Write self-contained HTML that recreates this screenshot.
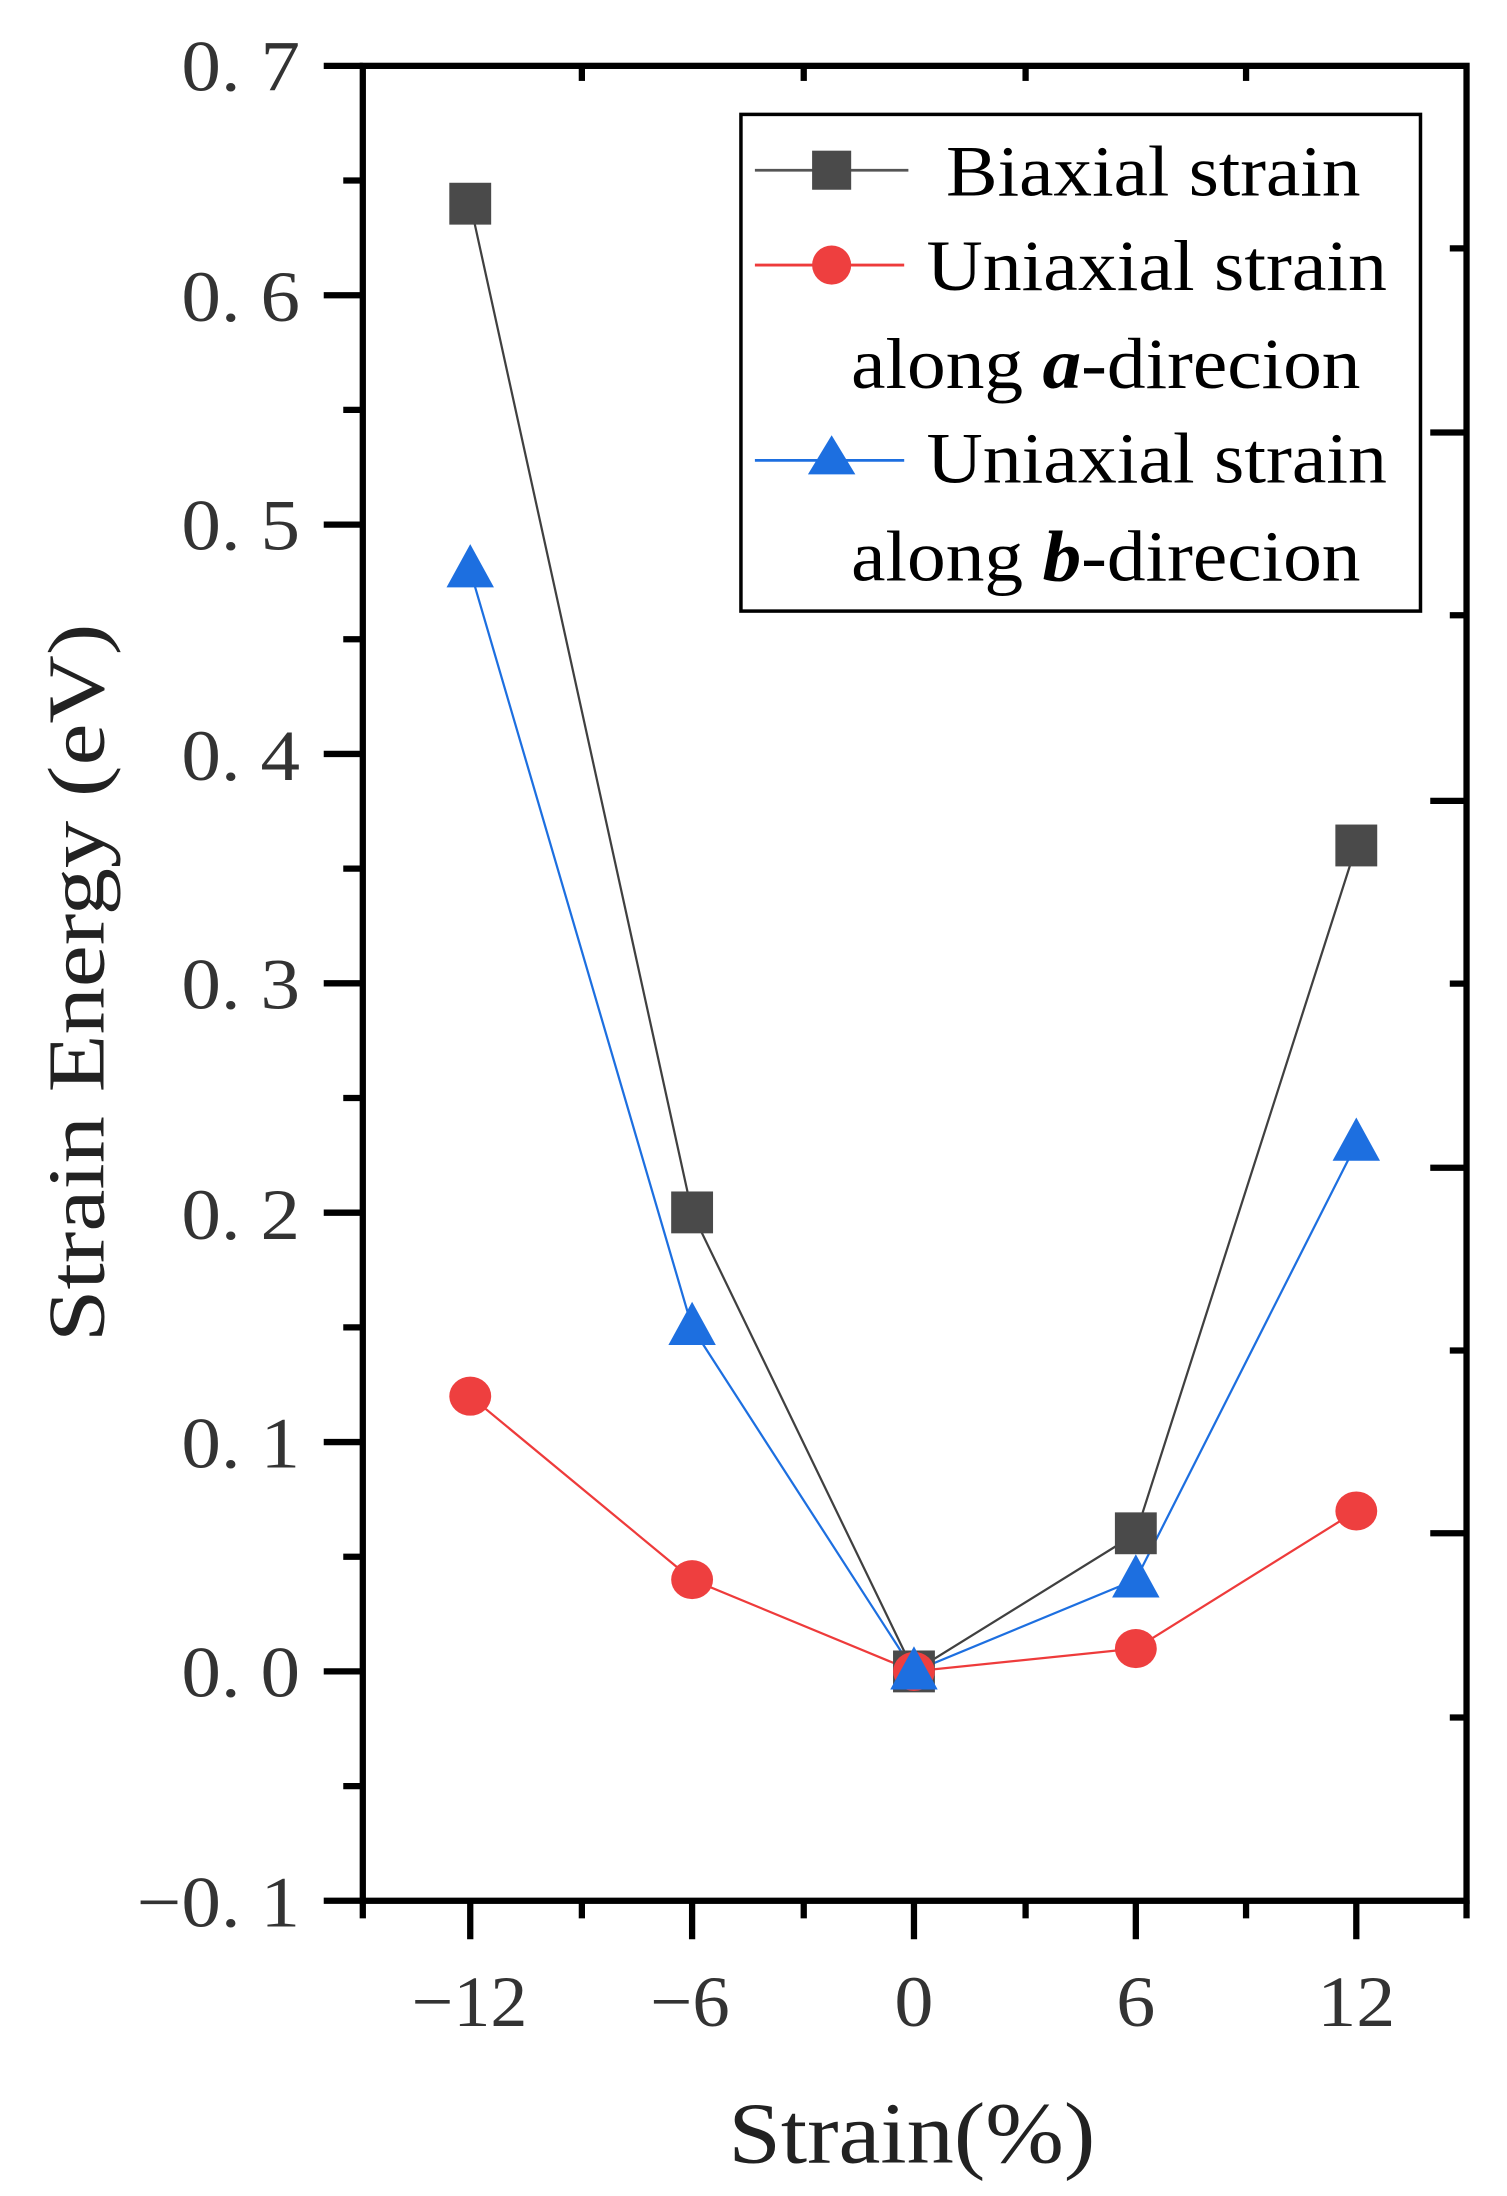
<!DOCTYPE html>
<html><head><style>
html,body{margin:0;padding:0;background:#fff;}
svg{display:block;}
text{font-family:"Liberation Serif",serif;}
</style></head><body>
<svg width="1507" height="2196" viewBox="0 0 1080 1574" preserveAspectRatio="none" xmlns="http://www.w3.org/2000/svg">
<rect width="1080" height="1574" fill="#fff"/>
<rect x="260" y="47.2" width="791" height="1315.2" fill="none" stroke="#000" stroke-width="4.5"/>
<g stroke="#000" stroke-width="4.5">
<line x1="232" y1="47.2" x2="260" y2="47.2"/>
<line x1="232" y1="211.6" x2="260" y2="211.6"/>
<line x1="232" y1="376" x2="260" y2="376"/>
<line x1="232" y1="540.4" x2="260" y2="540.4"/>
<line x1="232" y1="704.8" x2="260" y2="704.8"/>
<line x1="232" y1="869.2" x2="260" y2="869.2"/>
<line x1="232" y1="1033.6" x2="260" y2="1033.6"/>
<line x1="232" y1="1198" x2="260" y2="1198"/>
<line x1="232" y1="1362.4" x2="260" y2="1362.4"/>
<line x1="246" y1="129.4" x2="260" y2="129.4"/>
<line x1="246" y1="293.8" x2="260" y2="293.8"/>
<line x1="246" y1="458.2" x2="260" y2="458.2"/>
<line x1="246" y1="622.6" x2="260" y2="622.6"/>
<line x1="246" y1="787" x2="260" y2="787"/>
<line x1="246" y1="951.4" x2="260" y2="951.4"/>
<line x1="246" y1="1115.8" x2="260" y2="1115.8"/>
<line x1="246" y1="1280.2" x2="260" y2="1280.2"/>
<line x1="337" y1="1362" x2="337" y2="1390"/>
<line x1="496" y1="1362" x2="496" y2="1390"/>
<line x1="655" y1="1362" x2="655" y2="1390"/>
<line x1="814" y1="1362" x2="814" y2="1390"/>
<line x1="972" y1="1362" x2="972" y2="1390"/>
<line x1="260" y1="1362" x2="260" y2="1375"/>
<line x1="417" y1="1362" x2="417" y2="1375"/>
<line x1="576" y1="1362" x2="576" y2="1375"/>
<line x1="735" y1="1362" x2="735" y2="1375"/>
<line x1="893" y1="1362" x2="893" y2="1375"/>
<line x1="1051" y1="1362" x2="1051" y2="1375"/>
<line x1="417" y1="47" x2="417" y2="58"/>
<line x1="576" y1="47" x2="576" y2="58"/>
<line x1="735" y1="47" x2="735" y2="58"/>
<line x1="893" y1="47" x2="893" y2="58"/>
<line x1="1039" y1="178" x2="1051" y2="178"/>
<line x1="1025" y1="310" x2="1051" y2="310"/>
<line x1="1039" y1="441" x2="1051" y2="441"/>
<line x1="1025" y1="574" x2="1051" y2="574"/>
<line x1="1039" y1="705" x2="1051" y2="705"/>
<line x1="1025" y1="837" x2="1051" y2="837"/>
<line x1="1039" y1="968" x2="1051" y2="968"/>
<line x1="1025" y1="1099" x2="1051" y2="1099"/>
<line x1="1039" y1="1231" x2="1051" y2="1231"/>
</g>
<g font-size="52" fill="#333">
<text x="130" y="65" textLength="85" lengthAdjust="spacingAndGlyphs">0. 7</text>
<text x="130" y="230" textLength="85" lengthAdjust="spacingAndGlyphs">0. 6</text>
<text x="130" y="394" textLength="85" lengthAdjust="spacingAndGlyphs">0. 5</text>
<text x="130" y="559" textLength="85" lengthAdjust="spacingAndGlyphs">0. 4</text>
<text x="130" y="723" textLength="85" lengthAdjust="spacingAndGlyphs">0. 3</text>
<text x="130" y="888" textLength="85" lengthAdjust="spacingAndGlyphs">0. 2</text>
<text x="130" y="1052" textLength="85" lengthAdjust="spacingAndGlyphs">0. 1</text>
<text x="130" y="1216" textLength="85" lengthAdjust="spacingAndGlyphs">0. 0</text>
<text x="98" y="1381" textLength="117" lengthAdjust="spacingAndGlyphs">−0. 1</text>
</g>
<g font-size="52" fill="#333">
<text x="295" y="1452" textLength="83" lengthAdjust="spacingAndGlyphs">−12</text>
<text x="466" y="1452" textLength="57" lengthAdjust="spacingAndGlyphs">−6</text>
<text x="641" y="1452" textLength="28" lengthAdjust="spacingAndGlyphs">0</text>
<text x="800" y="1452" textLength="28" lengthAdjust="spacingAndGlyphs">6</text>
<text x="944" y="1452" textLength="56" lengthAdjust="spacingAndGlyphs">12</text>
</g>
<text x="522" y="1550" font-size="62" fill="#222" textLength="263" lengthAdjust="spacingAndGlyphs">Strain(%)</text>
<text transform="translate(74,962) rotate(-90)" font-size="58" fill="#222" textLength="515" lengthAdjust="spacingAndGlyphs">Strain Energy (eV)</text>
<polyline points="337,145.9 496,869.2 655,1198 814,1099.4 972,606.2" fill="none" stroke="#404040" stroke-width="1.6"/>
<polyline points="337,1000.7 496,1132.2 655,1198 814,1181.6 972,1083" fill="none" stroke="#ee3b3b" stroke-width="1.6"/>
<polyline points="337,408.9 496,951.4 655,1198 814,1132.2 972,819.9" fill="none" stroke="#1d6fe0" stroke-width="1.6"/>
<g fill="#4a4a4a">
<rect x="322" y="131" width="30" height="30"/>
<rect x="481" y="854" width="30" height="30"/>
<rect x="640" y="1183" width="30" height="30"/>
<rect x="799" y="1084" width="30" height="30"/>
<rect x="957" y="591" width="30" height="30"/>
</g>
<g fill="#ee3f3f">
<ellipse cx="337" cy="1000.7" rx="15" ry="14"/>
<ellipse cx="496" cy="1132.2" rx="15" ry="14"/>
<ellipse cx="655" cy="1198" rx="15" ry="14"/>
<ellipse cx="814" cy="1181.6" rx="15" ry="14"/>
<ellipse cx="972" cy="1083" rx="15" ry="14"/>
</g>
<g fill="#1d6fe0">
<polygon points="337,390 320,421 354,421"/>
<polygon points="496,933 479,964 513,964"/>
<polygon points="655,1180 638,1211 672,1211"/>
<polygon points="814,1114 797,1145 831,1145"/>
<polygon points="972,801 955,832 989,832"/>
</g>
<rect x="531" y="82" width="487" height="356" fill="#fff" stroke="#000" stroke-width="2.5"/>
<line x1="541" y1="122" x2="651" y2="122" stroke="#555" stroke-width="2"/>
<rect x="582" y="108" width="28" height="28" fill="#4a4a4a"/>
<line x1="541" y1="190" x2="648" y2="190" stroke="#ee3b3b" stroke-width="2"/>
<ellipse cx="596" cy="190" rx="14" ry="14" fill="#ee3f3f"/>
<line x1="541" y1="330" x2="648" y2="330" stroke="#1d6fe0" stroke-width="2"/>
<polygon points="596,312 579,340 613,340" fill="#1d6fe0"/>
<g font-size="52" fill="#000">
<text x="678" y="140" textLength="297" lengthAdjust="spacingAndGlyphs">Biaxial strain</text>
<text x="664" y="208" textLength="330" lengthAdjust="spacingAndGlyphs">Uniaxial strain</text>
<text x="610" y="278" textLength="365" lengthAdjust="spacingAndGlyphs">along <tspan font-style="italic" font-weight="bold">a</tspan>-direcion</text>
<text x="664" y="346" textLength="330" lengthAdjust="spacingAndGlyphs">Uniaxial strain</text>
<text x="610" y="416" textLength="365" lengthAdjust="spacingAndGlyphs">along <tspan font-style="italic" font-weight="bold">b</tspan>-direcion</text>
</g>
</svg>
</body></html>
